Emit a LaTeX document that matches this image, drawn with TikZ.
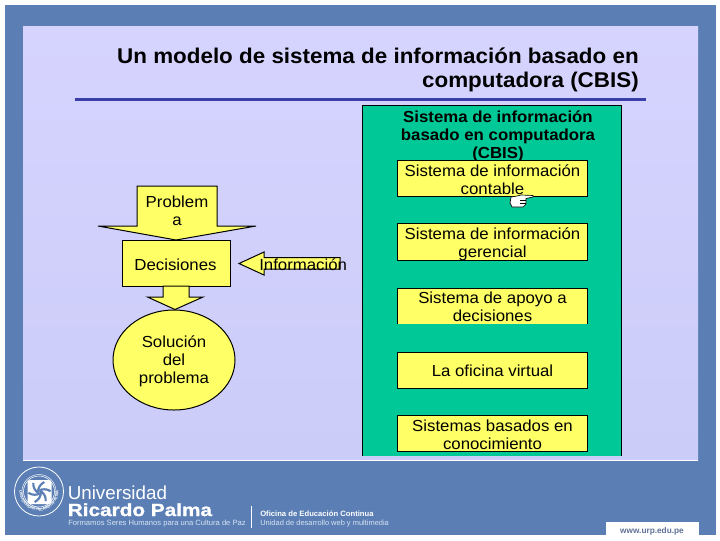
\documentclass[tikz,border=0pt]{standalone}
\usepackage{fontspec}
\setmainfont[FakeStretch=1.05]{Liberation Sans}
\newfontfamily\plainf{Liberation Sans}
\newfontfamily\rpfont[FakeStretch=1.18,FakeBold=1.2]{Liberation Sans}
\usetikzlibrary{decorations.text,shapes.geometric}
\definecolor{outerblue}{HTML}{5B7FB5}
\definecolor{panelA}{HTML}{D6D4FF}
\definecolor{panelB}{HTML}{CBCCF8}
\definecolor{rulecol}{HTML}{3A3FA8}
\definecolor{greenbox}{HTML}{00C896}
\definecolor{yellowbox}{HTML}{FFFF66}
\definecolor{urlcol}{HTML}{5F7096}
\definecolor{subwhite}{HTML}{D8E2F2}
\tikzset{
  x=0.75pt,y=-0.75pt,
  yshape/.style={draw=black,line width=0.75pt,fill=yellowbox,line join=miter},
  ybox/.style={yshape,minimum width=142.5pt,inner sep=0pt,outer sep=0pt,anchor=north west},
  lbl/.style={font=\fontsize{12}{13.5}\selectfont,align=center,inner sep=0pt,text=black},
  ttl/.style={font=\fontsize{16}{18}\selectfont\bfseries,align=right,inner sep=0pt,text=black,anchor=north east},
  foot/.style={inner sep=0pt,anchor=base west,text=white},
}
\begin{document}
\begin{tikzpicture}
\useasboundingbox (0,0) rectangle (720,540);
\fill[white] (0,0) rectangle (720,540);
\fill[outerblue] (5,5) rectangle (716,535);
\shade[top color=panelA,bottom color=panelB] (23,26) rectangle (698,460);
\draw[white,line width=0.9pt] (23,460.5) -- (698,460.5);
\fill[white] (606,522) rectangle (699,535);
% title
\node[ttl] (title) at (639,48) {Un modelo de sistema de información basado en\\computadora (CBIS)};
\draw[rulecol,line width=1.6pt] (75,99.5) -- (646,99.5);
% left flow
\fill[greenbox] (362,105) rectangle (621.5,456);
\draw[black,line width=0.75pt] (362,456) -- (362,105) -- (621.5,105) -- (621.5,456);
\draw[yshape] (137,186) -- (217,186) -- (217,226) -- (256,226) -- (176,240) -- (98,226) -- (137,226) -- cycle;
\node[lbl] (problema) at (177,211) {Problem\\a};
\node[yshape,minimum width=81pt,minimum height=34.5pt,inner sep=0pt,anchor=north west] (decbox) at (121.5,240) {};
\node[lbl] (decisiones) at (175.5,265) {Decisiones};
\draw[yshape] (163,286) -- (189,286) -- (189,297) -- (203,297) -- (175,309.5) -- (147.5,297) -- (163,297) -- cycle;
\node[yshape,ellipse,minimum width=91.5pt,minimum height=75pt,inner sep=0pt] (solucion) at (174,360) {};
\node[lbl] (sollbl) at (174,361.5) {Solución\\del\\problema};
\draw[yshape] (239,263.5) -- (264,252) -- (264,257.5) -- (340,257.5) -- (340,269) -- (264,269) -- (264,275) -- cycle;
\node[lbl,anchor=west] (informacion) at (259,265) {Información};
% right
\node[lbl,font=\fontsize{12}{13.5}\selectfont\bfseries] (cbis) at (498,136) {Sistema de información\\basado en computadora\\(CBIS)};
\node[ybox,minimum height=27pt] (b1) at (397.5,160.5) {};
\node[lbl] (t1) at (492.5,179.3) {Sistema de información\\contable};
\node[ybox,minimum height=28pt] (b2) at (397.5,223.5) {};
\node[lbl] (t2) at (492.5,243.8) {Sistema de información\\gerencial};
\fill[yellowbox] (397.5,288) rectangle (587.5,324);
\draw[black,line width=0.75pt] (397.5,324) -- (397.5,288) -- (587.5,288) -- (587.5,324);
\node[lbl] (t3) at (492.5,307) {Sistema de apoyo a\\decisiones};
\node[ybox,minimum height=27pt] (b4) at (397.5,352) {};
\node[lbl] (t4) at (492.5,370.5) {La oficina virtual};
\node[ybox,minimum height=27pt] (b5) at (397.5,415.5) {};
\node[lbl] (t5) at (492.5,434.5) {Sistemas basados en\\conocimiento};
% hand cursor
\draw[black,fill=white,line width=0.5pt,line join=round] (511,197) -- (517,196) -- (521,195) -- (533,195.5) -- (533,197) -- (526,198.5) -- (526,204) -- (523,207) -- (512,207) -- (510,203) -- cycle;
\draw[black,line width=0.3pt] (520,200) -- (526,200) (520,203) -- (525.5,203);
% logo
\draw[white,line width=0.6pt] (39,491.5) circle (24.5);
\draw[white,line width=0.4pt] (39,491.5) circle (15.5);
\draw[white!85!outerblue,line width=0.4pt] (39,491.5) circle (17);
\path[postaction={decorate,decoration={text along path,text align=center,text={|\plainf\fontsize{3}{4}\selectfont\bfseries\color{white}|UNIVERSIDAD RICARDO PALMA}}}] (39,491.5) ++(225:19.5) arc[start angle=225,end angle=-45,radius=19.5];
\fill[white,rounded corners=2pt] (27.5,480) rectangle (51.5,504);
\foreach \a in {0,60,...,300}
  \draw[outerblue,line width=1.6pt] (39.5,492) ++(\a:1.5) arc[start angle=\a,end angle=\a+65,radius=11];
% footer
\node[foot,font=\plainf\fontsize{14.1}{16}\selectfont] (uni) at (67.5,499) {Universidad};
\node[foot,font=\rpfont\fontsize{13.2}{16}\selectfont\bfseries] (rp) at (67.5,516) {Ricardo Palma};
\node[foot,text=subwhite,font=\plainf\fontsize{5.7}{7}\selectfont] (lema) at (68,525.5) {Formamos Seres Humanos para una Cultura de Paz};
\draw[white,line width=0.4pt] (251,506) -- (251,528);
\node[foot,font=\plainf\fontsize{5.75}{7}\selectfont\bfseries] (ofi) at (260,516) {Oficina de Educación Continua};
\node[foot,text=subwhite,font=\plainf\fontsize{5.6}{7}\selectfont] (uni2) at (260,525.5) {Unidad de desarrollo web y multimedia};
\node[inner sep=0pt,anchor=base,text=urlcol,font=\plainf\fontsize{6.2}{7}\selectfont\bfseries] (url) at (652,533) {www.urp.edu.pe};
\end{tikzpicture}
\end{document}
